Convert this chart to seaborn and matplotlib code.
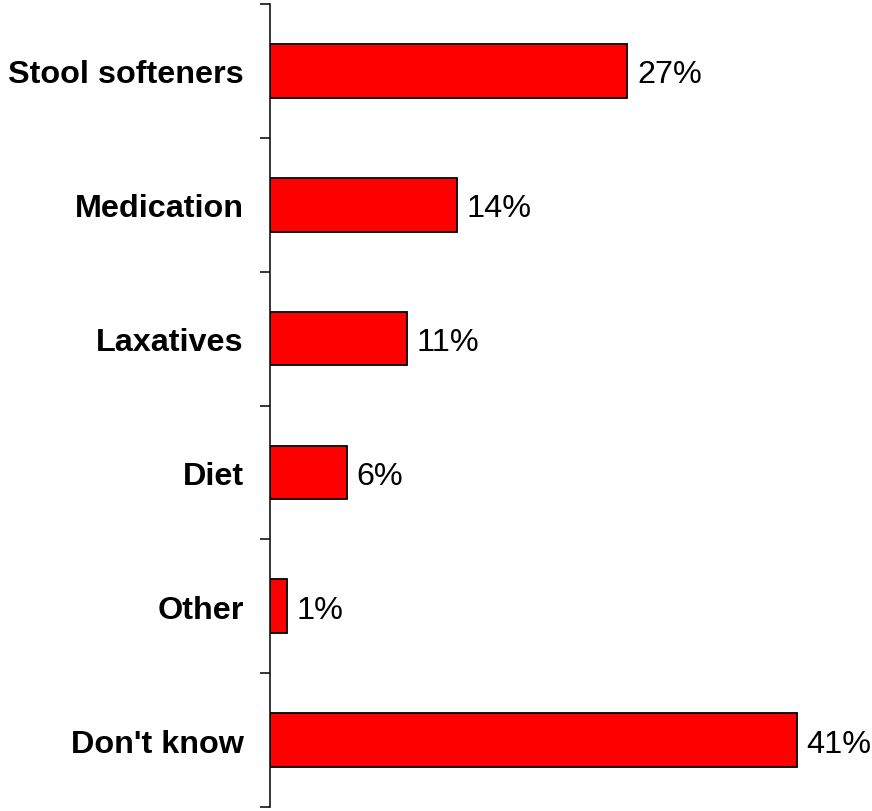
import matplotlib.pyplot as plt
import numpy as np
import pandas as pd
import seaborn as sns

# values, labels as printed
categories = ["Stool softeners", "Medication", "Laxatives", "Diet", "Other", "Don't know"]
values = [27.8, 14.55, 10.66, 6.0, 1.32, 41.0]
labels = ["27%", "14%", "11%", "6%", "1%", "41%"]

df = pd.DataFrame({"category": categories, "pct": values})

sns.set_theme(style="white")
plt.rcParams['font.family'] = ['Liberation Sans', 'DejaVu Sans']
plt.rcParams['text.color'] = 'black'
plt.rcParams['ytick.color'] = 'black'

fig = plt.figure(figsize=(8.72, 8.12), dpi=100)
ax = fig.add_axes([270 / 872, 4 / 812, 602 / 872, 803 / 812])

sns.barplot(data=df, x="pct", y="category", orient="h", color="#ff0000",
            saturation=1, width=0.4, edgecolor="black", linewidth=1.3, ax=ax)

texts = ax.bar_label(ax.containers[0], labels=labels, padding=7,
                     fontsize=23.3, color="black")
for t in texts:
    t.set_verticalalignment("center_baseline")

ax.set_xlim(0, 46.85)
ax.set_ylim(len(categories) - 0.5, -0.5)
ax.set_xlabel("")
ax.set_ylabel("")
ax.set_xticks([])

# ticks sit between the categories, labels without ticks
ax.set_yticks(np.arange(len(categories)))
ax.set_yticklabels(categories, fontsize=23.3, fontweight="bold", color="black")
ax.set_yticks(np.arange(len(categories) + 1) - 0.5, minor=True)
ax.tick_params(axis="y", which="major", length=0, pad=19)
ax.tick_params(axis="y", which="minor", left=True, direction="out",
               length=7.5, width=1.1, color="black")

for side in ["top", "right", "bottom"]:
    ax.spines[side].set_visible(False)
ax.spines["left"].set_color("black")
ax.spines["left"].set_linewidth(1.1)

fig.savefig("out.png", dpi=100)
